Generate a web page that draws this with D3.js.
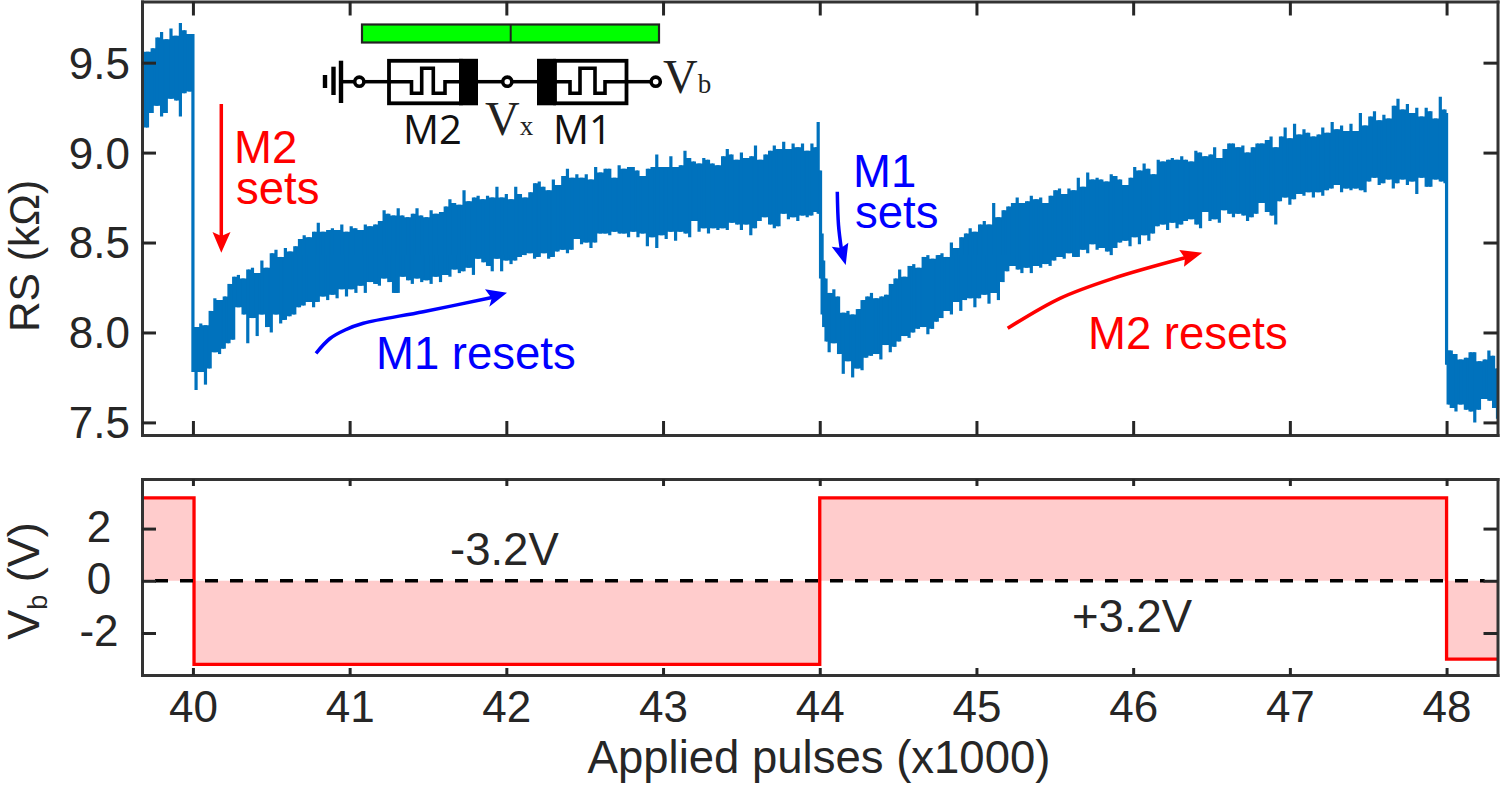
<!DOCTYPE html>
<html>
<head>
<meta charset="utf-8">
<script src="https://cdn.jsdelivr.net/npm/d3@7"></script>
<style>
  body { margin: 0; background: #fff; }
  text { font-family: "Liberation Sans", Arial, sans-serif; }
</style>
</head>
<body>
<div id="chart-container"></div>
<script>
const rsPulses = [
  39.675, 39.71, 39.74, 39.77, 39.80, 39.83, 39.86, 39.89, 39.92, 39.95, 39.98, 40.00,
  40.02, 40.05, 40.08, 40.11, 40.14, 40.17, 40.20, 40.23, 40.26, 40.29, 40.32, 40.35, 40.38, 40.41, 40.44, 40.47, 40.50, 40.53, 40.56, 40.59,
  40.62, 40.65, 40.68, 40.71, 40.74, 40.77, 40.80, 40.83, 40.86, 40.89, 40.92, 40.95, 40.98, 41.01, 41.04, 41.07, 41.10, 41.13, 41.16, 41.19,
  41.22, 41.25, 41.28, 41.31, 41.34, 41.37, 41.40, 41.43, 41.46, 41.49, 41.52, 41.55, 41.58, 41.61, 41.64, 41.67, 41.70, 41.73, 41.76, 41.79,
  41.82, 41.85, 41.88, 41.91, 41.94, 41.97, 42.00, 42.03, 42.06, 42.09, 42.12, 42.15, 42.18, 42.21, 42.24, 42.27, 42.30, 42.33, 42.36, 42.39,
  42.42, 42.45, 42.48, 42.51, 42.54, 42.57, 42.60, 42.63, 42.66, 42.69, 42.72, 42.75, 42.78, 42.81, 42.84, 42.87, 42.90, 42.93, 42.96, 42.99,
  43.02, 43.05, 43.08, 43.11, 43.14, 43.17, 43.20, 43.23, 43.26, 43.29, 43.32, 43.35, 43.38, 43.41, 43.44, 43.47, 43.50, 43.53, 43.56, 43.59,
  43.62, 43.65, 43.68, 43.71, 43.74, 43.77, 43.80, 43.83, 43.86, 43.89, 43.92, 43.95, 43.98, 43.99,
  44.005, 44.015, 44.025, 44.04, 44.06, 44.09, 44.12, 44.15, 44.18, 44.21, 44.24, 44.27, 44.30, 44.33, 44.36, 44.39, 44.42, 44.45, 44.48, 44.51,
  44.54, 44.57, 44.60, 44.63, 44.66, 44.69, 44.72, 44.75, 44.78, 44.81, 44.84, 44.87, 44.90, 44.93, 44.96, 44.99, 45.02, 45.05, 45.08, 45.11,
  45.14, 45.17, 45.20, 45.23, 45.26, 45.29, 45.32, 45.35, 45.38, 45.41, 45.44, 45.47, 45.50, 45.53, 45.56, 45.59, 45.62, 45.65, 45.68, 45.71,
  45.74, 45.77, 45.80, 45.83, 45.86, 45.89, 45.92, 45.95, 45.98, 46.01, 46.04, 46.07, 46.10, 46.13, 46.16, 46.19, 46.22, 46.25, 46.28, 46.31,
  46.34, 46.37, 46.40, 46.43, 46.46, 46.49, 46.52, 46.55, 46.58, 46.61, 46.64, 46.67, 46.70, 46.73, 46.76, 46.79, 46.82, 46.85, 46.88, 46.91,
  46.94, 46.97, 47.00, 47.03, 47.06, 47.09, 47.12, 47.15, 47.18, 47.21, 47.24, 47.27, 47.30, 47.33, 47.36, 47.39, 47.42, 47.45, 47.48, 47.51,
  47.54, 47.57, 47.60, 47.63, 47.66, 47.69, 47.72, 47.75, 47.78, 47.81, 47.84, 47.87, 47.90, 47.93, 47.96, 47.99, 48.00,
  48.01, 48.03, 48.06, 48.09, 48.12, 48.15, 48.18, 48.21, 48.24, 48.27, 48.30, 48.325
]
const rsHigh = [
  9.63, 9.56, 9.58, 9.64, 9.67, 9.63, 9.69, 9.65, 9.72, 9.68, 9.66, 9.66,
  8.03, 8.05, 8.04, 8.12, 8.19, 8.18, 8.20, 8.27, 8.31, 8.32, 8.30, 8.35, 8.36, 8.33, 8.40, 8.36, 8.44, 8.46, 8.42, 8.47,
  8.45, 8.48, 8.52, 8.54, 8.53, 8.56, 8.61, 8.56, 8.57, 8.58, 8.57, 8.60, 8.56, 8.59, 8.58, 8.57, 8.60, 8.59, 8.60, 8.62,
  8.68, 8.66, 8.65, 8.69, 8.65, 8.64, 8.66, 8.69, 8.65, 8.64, 8.68, 8.66, 8.67, 8.70, 8.74, 8.72, 8.71, 8.79, 8.73, 8.75,
  8.76, 8.74, 8.76, 8.75, 8.81, 8.75, 8.77, 8.74, 8.81, 8.77, 8.75, 8.78, 8.83, 8.84, 8.81, 8.79, 8.85, 8.82, 8.87, 8.91,
  8.86, 8.88, 8.86, 8.88, 8.85, 8.92, 8.89, 8.91, 8.91, 8.86, 8.93, 8.91, 8.92, 8.92, 8.90, 8.87, 8.91, 8.92, 8.99, 8.92,
  8.92, 8.98, 8.92, 8.93, 9.01, 8.97, 8.95, 8.94, 8.97, 8.96, 8.94, 8.93, 8.98, 9.02, 8.99, 8.96, 9.00, 8.97, 8.98, 9.04,
  8.96, 8.99, 9.01, 9.04, 9.02, 9.06, 9.02, 9.05, 9.03, 9.05, 9.01, 9.05, 9.03, 9.17,
  8.90, 8.55, 8.40, 8.30, 8.22, 8.24, 8.20, 8.11, 8.12, 8.10, 8.13, 8.18, 8.20, 8.22, 8.19, 8.20, 8.21, 8.27, 8.30, 8.35,
  8.31, 8.37, 8.38, 8.36, 8.42, 8.43, 8.41, 8.43, 8.44, 8.42, 8.50, 8.47, 8.53, 8.55, 8.58, 8.56, 8.60, 8.62, 8.60, 8.72,
  8.64, 8.68, 8.70, 8.72, 8.75, 8.72, 8.73, 8.76, 8.74, 8.75, 8.72, 8.76, 8.79, 8.80, 8.77, 8.80, 8.79, 8.86, 8.81, 8.89,
  8.85, 8.86, 8.85, 8.84, 8.88, 8.87, 8.85, 8.82, 8.86, 8.92, 8.90, 8.94, 8.91, 8.88, 8.96, 8.95, 8.96, 8.97, 8.96, 8.98,
  8.96, 8.95, 9.01, 9.00, 8.98, 8.99, 9.03, 8.97, 9.02, 9.05, 9.05, 9.03, 9.04, 9.00, 9.03, 9.05, 9.05, 9.07, 9.09, 9.03,
  9.09, 9.14, 9.08, 9.16, 9.10, 9.13, 9.11, 9.09, 9.10, 9.14, 9.11, 9.17, 9.13, 9.15, 9.12, 9.16, 9.12, 9.22, 9.15, 9.20,
  9.23, 9.18, 9.21, 9.19, 9.26, 9.30, 9.24, 9.27, 9.22, 9.25, 9.20, 9.25, 9.23, 9.19, 9.31, 9.24, 9.22,
  7.90, 7.90, 7.88, 7.85, 7.86, 7.89, 7.89, 7.84, 7.85, 7.90, 7.87, 7.80
]
const rsLow = [
  9.13, 9.14, 9.22, 9.26, 9.20, 9.22, 9.30, 9.29, 9.20, 9.33, 9.34, 7.78,
  7.68, 7.78, 7.71, 7.80, 7.89, 7.88, 7.91, 7.94, 7.96, 8.14, 8.10, 7.94, 8.08, 7.98, 8.10, 8.03, 8.00, 8.10, 8.05, 8.07,
  8.09, 8.10, 8.14, 8.15, 8.17, 8.14, 8.17, 8.20, 8.18, 8.21, 8.19, 8.24, 8.20, 8.24, 8.22, 8.26, 8.22, 8.28, 8.27, 8.26,
  8.30, 8.28, 8.22, 8.22, 8.31, 8.29, 8.27, 8.30, 8.28, 8.29, 8.27, 8.31, 8.28, 8.32, 8.31, 8.35, 8.33, 8.34, 8.36, 8.32,
  8.41, 8.39, 8.37, 8.34, 8.41, 8.34, 8.40, 8.38, 8.40, 8.42, 8.43, 8.44, 8.41, 8.42, 8.44, 8.41, 8.42, 8.45, 8.46, 8.44,
  8.46, 8.52, 8.49, 8.50, 8.47, 8.50, 8.55, 8.55, 8.54, 8.56, 8.55, 8.55, 8.53, 8.56, 8.53, 8.55, 8.48, 8.53, 8.47, 8.54,
  8.52, 8.56, 8.51, 8.56, 8.55, 8.53, 8.62, 8.56, 8.58, 8.55, 8.58, 8.57, 8.58, 8.57, 8.61, 8.60, 8.57, 8.60, 8.54, 8.58,
  8.62, 8.64, 8.60, 8.58, 8.59, 8.66, 8.63, 8.64, 8.62, 8.65, 8.64, 8.65, 8.67, 8.66,
  8.30, 8.10, 8.03, 7.95, 7.89, 7.94, 7.88, 7.77, 7.84, 7.75, 7.80, 7.79, 7.86, 7.87, 7.88, 7.85, 7.93, 7.89, 7.92, 7.95,
  7.98, 7.97, 8.00, 8.02, 8.03, 7.99, 8.02, 8.06, 8.08, 8.12, 8.10, 8.17, 8.12, 8.18, 8.19, 8.14, 8.19, 8.21, 8.16, 8.22,
  8.18, 8.28, 8.34, 8.37, 8.35, 8.33, 8.36, 8.33, 8.37, 8.36, 8.38, 8.37, 8.40, 8.42, 8.41, 8.44, 8.42, 8.42, 8.46, 8.44,
  8.49, 8.46, 8.47, 8.45, 8.43, 8.47, 8.50, 8.51, 8.48, 8.53, 8.49, 8.54, 8.51, 8.55, 8.59, 8.60, 8.57, 8.61, 8.58, 8.60,
  8.62, 8.63, 8.60, 8.58, 8.67, 8.62, 8.63, 8.61, 8.68, 8.66, 8.64, 8.66, 8.65, 8.62, 8.64, 8.66, 8.72, 8.67, 8.65, 8.60,
  8.73, 8.75, 8.71, 8.74, 8.77, 8.76, 8.78, 8.75, 8.78, 8.76, 8.79, 8.80, 8.82, 8.78, 8.80, 8.79, 8.80, 8.79, 8.78, 8.84,
  8.86, 8.82, 8.83, 8.85, 8.80, 8.83, 8.85, 8.82, 8.84, 8.77, 8.86, 8.81, 8.81, 8.85, 8.84, 8.83, 7.82,
  7.60, 7.58, 7.56, 7.60, 7.57, 7.56, 7.50, 7.57, 7.63, 7.62, 7.58, 7.52
]

// bias applied to the stack
const vbPulses = [39.675, 40.007, 40.007, 44, 44, 48, 48, 48.325]
const vbValues = [3.18, 3.18, -3.2, -3.2, 3.18, 3.18, -3.0, -3.0]
const zeroPulses = [39.758, 48.243]

const rsTicks = [7.5, 8, 8.5, 9, 9.5]
const vbTicks = [-2, 0, 2]
const pulseTicks = [40, 41, 42, 43, 44, 45, 46, 47, 48]

const ink = "#262626"
const traceColor = "#0072BD"
const fontSize = 44

const svg = d3.select("#chart-container")
  .append("svg")
  .attr("width", 1500)
  .attr("height", 790)
  .style("display", "block")

const left = 142, right = 1497.5
const x = d3.scaleLinear().domain([39.675, 48.325]).range([left, right])
const yRS = d3.scaleLinear().domain([7.43, 9.84]).range([435, 1.5])
const yVb = d3.scaleLinear().domain([-3.61, 3.9]).range([675, 479])

svg.append("clipPath").attr("id", "clip-top")
  .append("rect").attr("x", left).attr("y", 1.5).attr("width", right - left).attr("height", 433.5)
svg.append("clipPath").attr("id", "clip-bottom")
  .append("rect").attr("x", left).attr("y", 479).attr("width", right - left).attr("height", 196)

// trace: a solid body between neighbouring pulses, then a narrow stem per pulse
// so the edges stay spiky
const rsIndex = d3.range(rsPulses.length)
const next = i => Math.min(i + 1, rsPulses.length - 1)
const rsBody = d3.area()
  .x(i => x(rsPulses[i]))
  .y0(i => yRS(Math.max(rsLow[i], rsLow[next(i)])))
  .y1(i => yRS(Math.min(rsHigh[i], rsHigh[next(i)])))
  .curve(d3.curveStepAfter)

const trace = svg.append("g").attr("clip-path", "url(#clip-top)")
trace.append("path")
  .datum(rsIndex)
  .attr("d", rsBody)
  .attr("fill", traceColor)
trace.selectAll("line")
  .data(rsIndex)
  .join("line")
  .attr("x1", i => x(rsPulses[i]))
  .attr("x2", i => x(rsPulses[i]))
  .attr("y1", i => yRS(rsLow[i]))
  .attr("y2", i => yRS(rsHigh[i]))
  .attr("stroke", traceColor)
  .attr("stroke-width", 3.2)

// bias panel
const vbIndex = d3.range(vbPulses.length)
svg.append("path")
  .datum(vbIndex)
  .attr("clip-path", "url(#clip-bottom)")
  .attr("d", d3.area().x(i => x(vbPulses[i])).y0(yVb(0)).y1(i => yVb(vbValues[i])))
  .attr("fill", "#ffcccc")
svg.append("path")
  .datum(vbIndex)
  .attr("clip-path", "url(#clip-bottom)")
  .attr("d", d3.line().x(i => x(vbPulses[i])).y(i => yVb(vbValues[i])))
  .attr("fill", "none")
  .attr("stroke", "#ff0000")
  .attr("stroke-width", 3.3)
svg.append("line")
  .attr("x1", x(zeroPulses[0]))
  .attr("x2", x(zeroPulses[1]))
  .attr("y1", yVb(0))
  .attr("y2", yVb(0))
  .attr("stroke", "#000")
  .attr("stroke-width", 3.5)
  .attr("stroke-dasharray", "13 12")

// axes, all four sides of both panels with inward ticks
function styleAxis(g) {
  g.selectAll(".domain").attr("stroke", "#333").attr("stroke-width", 3).attr("stroke-linecap", "square")
  g.selectAll(".tick line").attr("stroke", ink).attr("stroke-width", 3)
  g.selectAll("text")
    .attr("fill", ink)
    .style("font-size", fontSize + "px")
    .style("font-family", '"Liberation Sans", Arial, sans-serif')
}

function addAxis(axis, tx, ty) {
  return svg.append("g")
    .attr("transform", `translate(${tx},${ty})`)
    .call(axis.tickSizeOuter(0))
    .call(styleAxis)
}

addAxis(d3.axisBottom(x).tickValues(pulseTicks).tickSize(-14).tickFormat(""), 0, 435)
addAxis(d3.axisTop(x).tickValues(pulseTicks).tickSize(-14).tickFormat(""), 0, 1.5)
addAxis(d3.axisRight(yRS).tickValues(rsTicks).tickSize(-14).tickFormat(""), right, 0)
addAxis(d3.axisLeft(yRS).tickValues(rsTicks).tickSize(-14).tickFormat(d3.format(".1f")), left, 0)
  .selectAll("text")
  .attr("x", -12)
  .attr("dy", "0.35em")

const xAxisG = addAxis(d3.axisBottom(x).tickValues(pulseTicks).tickSize(-7).tickFormat(d3.format("d")), 0, 675)
xAxisG.selectAll("text").attr("y", 47).attr("dy", 0)
addAxis(d3.axisTop(x).tickValues(pulseTicks).tickSize(-7).tickFormat(""), 0, 479)
addAxis(d3.axisRight(yVb).tickValues(vbTicks).tickSize(-14).tickFormat(""), right, 0)
const vbAxisG = addAxis(d3.axisLeft(yVb).tickValues(vbTicks).tickSize(-14).tickFormat(d => String(d)), left, 0)
vbAxisG.selectAll("text")
  .attr("x", 99 - left)
  .attr("text-anchor", "middle")
  .attr("dy", "0.29em")

// titles
function addText(str, tx, ty, color, size, anchor) {
  return svg.append("text")
    .attr("x", tx)
    .attr("y", ty)
    .attr("fill", color)
    .attr("text-anchor", anchor || "start")
    .style("font-size", size + "px")
    .text(str)
}

addText("Applied pulses (x1000)", 819, 773, ink, 45.5, "middle")
svg.append("text")
  .attr("transform", "translate(39,256) rotate(-90)")
  .attr("text-anchor", "middle")
  .attr("fill", ink)
  .style("font-size", "42.5px")
  .text("RS (kΩ)")
const vbLabel = svg.append("text")
  .attr("transform", "translate(39,581) rotate(-90)")
  .attr("text-anchor", "middle")
  .attr("fill", ink)
  .style("font-size", "45px")
vbLabel.append("tspan").text("V")
vbLabel.append("tspan").attr("dy", 8).style("font-size", "27px").text("b")
vbLabel.append("tspan").attr("dy", -8).text(" (V)")

// annotations
const annotationSize = 45.5
addText("M2", 234, 163, "#ff0000", annotationSize)
addText("sets", 236, 204, "#ff0000", annotationSize)
addText("M1", 853, 187, "#0000ff", annotationSize)
addText("sets", 855, 228, "#0000ff", annotationSize)
addText("M1 resets", 376, 369, "#0000ff", annotationSize)
addText("M2 resets", 1088, 349, "#ff0000", annotationSize)
addText("-3.2V", 450, 565, ink, annotationSize)
addText("+3.2V", 1072, 632, ink, annotationSize)

function addArrow(shaft, head, color) {
  svg.append("path")
    .attr("d", d3.line().curve(d3.curveCatmullRom.alpha(0.5))(shaft))
    .attr("fill", "none")
    .attr("stroke", color)
    .attr("stroke-width", 3.5)
  svg.append("path")
    .attr("d", d3.line()(head) + "Z")
    .attr("fill", color)
}

addArrow([[221.3, 104], [221.3, 238]],
  [[212.5, 232], [221.3, 236], [230.5, 232], [221.3, 252.7]], "#ff0000")
addArrow([[837.3, 191.7], [838.5, 225], [841.5, 250]],
  [[831.7, 246.7], [841, 248], [848.3, 242.7], [845.7, 265]], "#0000ff")
addArrow([[316, 353.3], [330, 338.5], [345, 330], [363.3, 323.3], [423.3, 311.7], [492, 297.5]],
  [[485, 289.3], [491.7, 298.3], [489.3, 306.7], [507, 292.7]], "#0000ff")
addArrow([[1007.7, 328.3], [1060, 298.3], [1113.3, 278.3], [1186, 257.5]],
  [[1179.3, 250], [1185, 258.3], [1184, 266.7], [1202.3, 252.7]], "#ff0000")

// inset: electrode bar and circuit
const inset = svg.append("g")
inset.append("rect")
  .attr("x", 362).attr("y", 24.5).attr("width", 297).attr("height", 18)
  .attr("fill", "#00ff00").attr("stroke", "#222").attr("stroke-width", 2.2)
inset.append("line")
  .attr("x1", 510.7).attr("x2", 510.7).attr("y1", 24.5).attr("y2", 42.5)
  .attr("stroke", "#222").attr("stroke-width", 2)

const wireY = 81.7
const groundBars = [[341, 60.7, 103], [333.5, 66.7, 95], [325, 75, 88]]
groundBars.forEach(b => {
  inset.append("line")
    .attr("x1", b[0]).attr("x2", b[0]).attr("y1", b[1]).attr("y2", b[2])
    .attr("stroke", "#000").attr("stroke-width", 4.4)
})

const wires = [[341, 354.5], [364, 388], [477, 503], [512, 537], [626, 651]]
wires.forEach(w => {
  inset.append("line")
    .attr("x1", w[0]).attr("x2", w[1]).attr("y1", wireY).attr("y2", wireY)
    .attr("stroke", "#000").attr("stroke-width", 3.5)
})
const nodes = [359.3, 507.3, 655.7]
nodes.forEach(n => {
  inset.append("circle")
    .attr("cx", n).attr("cy", wireY).attr("r", 4.6)
    .attr("fill", "#fff").attr("stroke", "#000").attr("stroke-width", 3.6)
})

inset.append("rect").attr("x", 389).attr("y", 60.8).attr("width", 72).attr("height", 42.5)
  .attr("fill", "none").attr("stroke", "#000").attr("stroke-width", 3.8)
inset.append("rect").attr("x", 459).attr("y", 58.8).attr("width", 19).attr("height", 46.5)
inset.append("rect").attr("x", 555).attr("y", 60.8).attr("width", 71.5).attr("height", 42.5)
  .attr("fill", "none").attr("stroke", "#000").attr("stroke-width", 3.8)
inset.append("rect").attr("x", 537).attr("y", 58.8).attr("width", 19).attr("height", 46.5)

const m2Wave = [[389, 81.7], [411.5, 81.7], [411.5, 93.3], [421.7, 93.3], [421.7, 68.3], [433.3, 68.3], [433.3, 93.3], [445, 93.3], [445, 81.7], [459, 81.7]]
const m1Wave = [[555, 81.7], [570, 81.7], [570, 93.3], [580, 93.3], [580, 68.3], [595, 68.3], [595, 93.3], [605, 93.3], [605, 81.7], [626, 81.7]]
;[m2Wave, m1Wave].forEach(w => {
  inset.append("path")
    .attr("d", d3.line()(w))
    .attr("fill", "none")
    .attr("stroke", "#000")
    .attr("stroke-width", 3.6)
})

addText("M2", 403, 144, "#111", 40).style("font-family", '"Open Sans"')
addText("M1", 553, 144, "#111", 40).style("font-family", '"Open Sans"')

function addSerifLabel(main, sub, tx, ty) {
  const t = svg.append("text")
    .attr("x", tx)
    .attr("y", ty)
    .attr("fill", "#222")
    .style("font-family", '"Liberation Serif", serif')
    .style("font-size", "48px")
  t.append("tspan").text(main)
  t.append("tspan").style("font-size", "27px").text(sub)
}
addSerifLabel("V", "x", 485, 135)
addSerifLabel("V", "b", 663, 93.3)
</script>
</body>
</html>
